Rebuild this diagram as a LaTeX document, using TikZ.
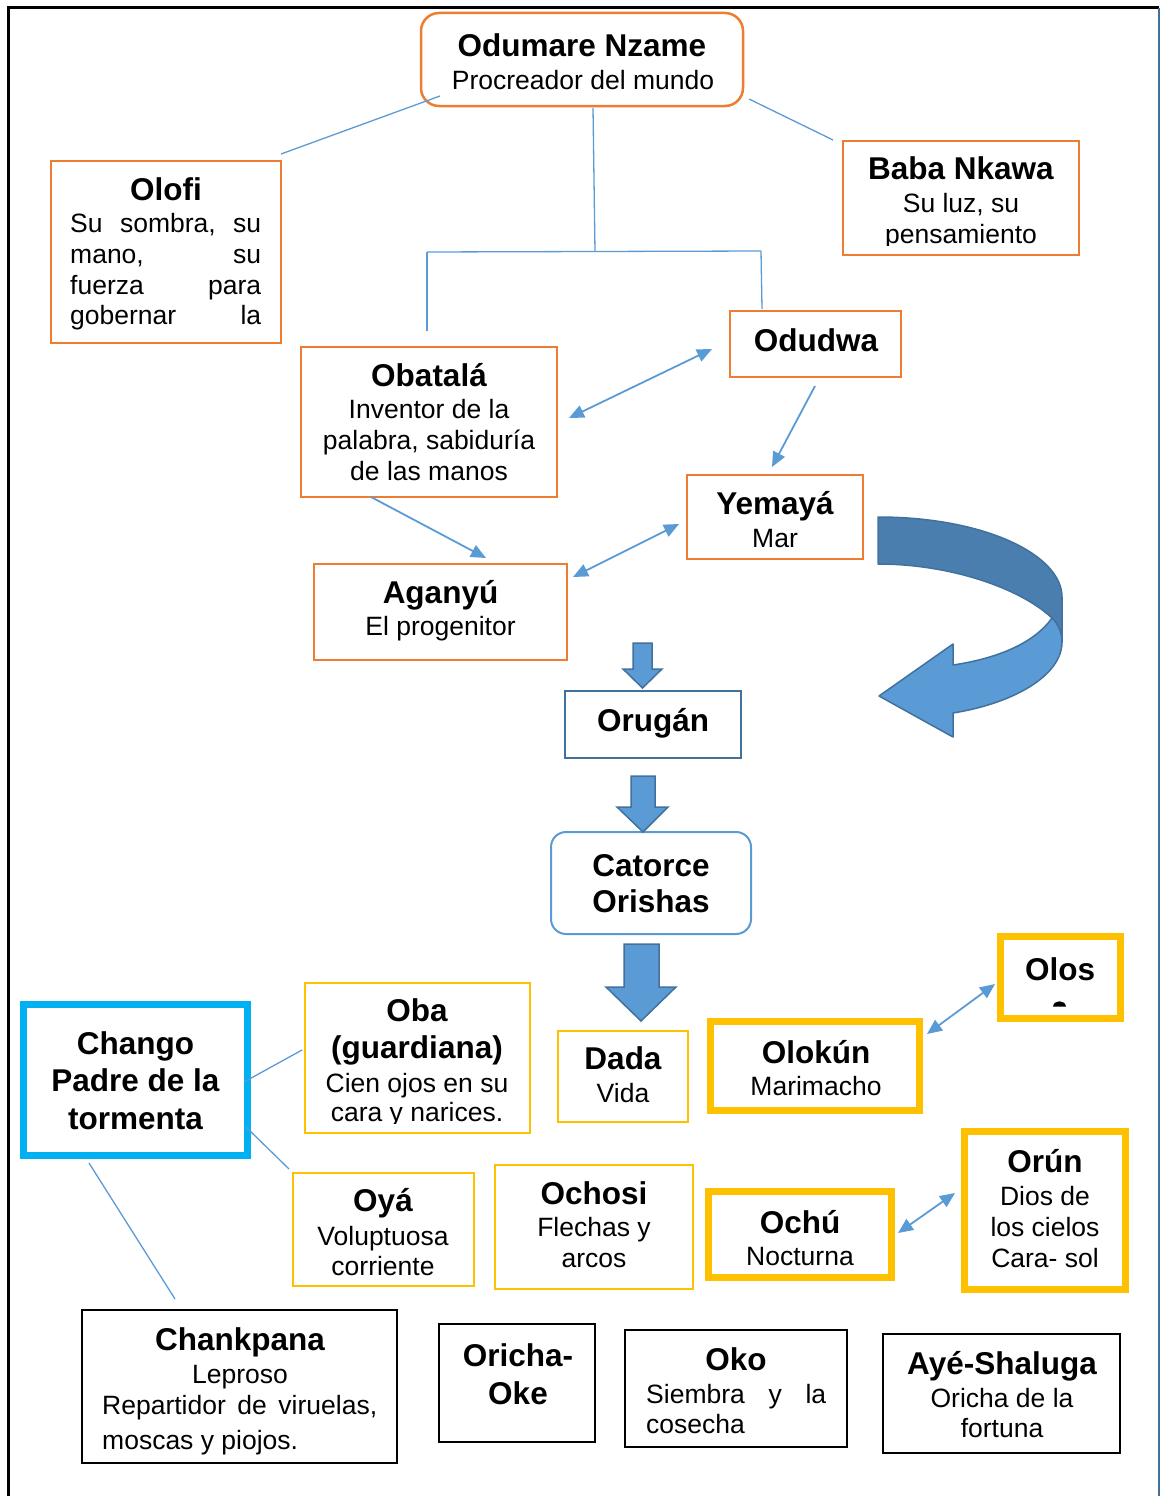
\documentclass[tikz,border=0pt]{standalone}
\usepackage{fontspec}
\setmainfont{Liberation Sans}
\usetikzlibrary{arrows.meta}
\definecolor{orangeline}{HTML}{ED7D31}
\definecolor{blueline}{HTML}{5B9BD5}
\definecolor{bluedark}{HTML}{41719C}
\definecolor{blueback}{HTML}{4A7EAE}
\definecolor{yellowline}{HTML}{FFC000}
\definecolor{cyanline}{HTML}{00B0F0}

\begin{document}
\begin{tikzpicture}[x=1pt,y=-1pt,
  boxbase/.style={rectangle, inner sep=0pt, outer sep=0pt},
  obox/.style={boxbase, draw=orangeline, line width=2.5pt},
  ybox/.style={boxbase, draw=yellowline, line width=2pt},
  thickybox/.style={boxbase, draw=yellowline, line width=7pt},
  kbox/.style={boxbase, draw=black, line width=2.5pt},
  ttl/.style={inner sep=0pt, anchor=base, font=\fontsize{31.5}{36}\selectfont\bfseries},
  txt/.style={inner sep=0pt, anchor=base, font=\fontsize{26.5}{31}\selectfont},
  txtl/.style={txt, anchor=base west},
  link/.style={draw=blueline, line width=1.3pt},
  twoway/.style={draw=blueline, line width=1.8pt,
    {Triangle[length=15pt,width=13pt]}-{Triangle[length=15pt,width=13pt]}},
  oneway/.style={draw=blueline, line width=1.8pt, -{Triangle[length=15pt,width=13pt]}},
  blockarrow/.style={fill=blueline, draw=bluedark, line width=1.5pt, line join=miter}
]
\useasboundingbox (0,0) rectangle (1160,1496);

% page frame
\draw[black, line width=3pt] (8,1496) -- (8,8) -- (1159,8);
\draw[bluedark, line width=1.5pt] (1159,8) -- (1159,1496);

% ---------- boxes ----------
\node[obox, rounded corners=18pt, minimum width=322pt, minimum height=93pt] (odumare) at (582,59.5) {};
\node[obox, minimum width=230pt, minimum height=182pt] (olofi) at (166,252) {};
\node[obox, minimum width=236pt, minimum height=114pt] (baba) at (961,198) {};
\node[obox, minimum width=256pt, minimum height=150pt] (obatala) at (429,422) {};
\node[obox, minimum width=171pt, minimum height=66pt] (odudwa) at (815.5,344) {};
\node[obox, minimum width=176pt, minimum height=84pt] (yemaya) at (775,517) {};
\node[obox, minimum width=253pt, minimum height=96pt] (aganyu) at (440.5,612) {};
\node[boxbase, draw=bluedark, line width=2pt, minimum width=176pt, minimum height=67pt] (orugan) at (653,724.5) {};
\node[boxbase, draw=blueline, line width=2pt, rounded corners=15pt, minimum width=200pt, minimum height=102pt] (catorce) at (651,883) {};

\node[boxbase, draw=cyanline, line width=7pt, minimum width=224pt, minimum height=151pt] (chango) at (135,1079.5) {};
\node[ybox, minimum width=225pt, minimum height=150pt] (oba) at (417.5,1058) {};
\node[ybox, minimum width=181pt, minimum height=113pt] (oya) at (383.5,1229.5) {};
\node[ybox, minimum width=198pt, minimum height=124pt] (ochosi) at (594,1227) {};
\node[ybox, minimum width=130pt, minimum height=91pt] (dada) at (623,1076.5) {};
\node[thickybox, minimum width=209pt, minimum height=89pt] (olokun) at (814.5,1065.5) {};
\node[thickybox, minimum width=120pt, minimum height=82pt] (olos) at (1060,977) {};
\node[thickybox, minimum width=183pt, minimum height=86pt] (ochu) at (799.5,1234) {};
\node[thickybox, minimum width=161pt, minimum height=158pt] (orun) at (1044.5,1210) {};

\node[kbox, minimum width=315pt, minimum height=153pt] (chankpana) at (239.5,1386.5) {};
\node[kbox, minimum width=156pt, minimum height=118pt] (orichaoke) at (517,1383) {};
\node[kbox, minimum width=222pt, minimum height=117pt] (oko) at (736,1388.5) {};
\node[kbox, minimum width=237pt, minimum height=119pt] (aye) at (1001.5,1393.5) {};

% ---------- texts ----------
\node[ttl] (odumare-t) at (582,56.5) {Odumare Nzame};
\node[txt] (odumare-1) at (583,89) {Procreador del mundo};

\node[ttl] (olofi-t) at (166,200) {Olofi};
\node[txtl] (olofi-1) at (70,232.5) {\hbox to 191pt{Su\hfill sombra,\hfill su}};
\node[txtl] (olofi-2) at (70,263.5) {\hbox to 191pt{mano,\hfill su}};
\node[txtl] (olofi-3) at (70,294.5) {\hbox to 191pt{fuerza\hfill para}};
\node[txtl] (olofi-4) at (70,324.5) {\hbox to 191pt{gobernar\hfill la}};

\node[ttl] (baba-t) at (961,179) {Baba Nkawa};
\node[txt] (baba-1) at (961,212.5) {Su luz, su};
\begin{scope}
  \clip (844,220) rectangle (1078,245);
  \node[txt] (baba-2) at (961,243) {pensamiento};
\end{scope}

\node[ttl] (obatala-t) at (429,386) {Obatalá};
\node[txt] (obatala-1) at (429,418) {Inventor de la};
\node[txt] (obatala-2) at (429,449) {palabra, sabiduría};
\node[txt] (obatala-3) at (429,480) {de las manos};

\node[ttl] (odudwa-t) at (816,351.5) {Odudwa};

\node[ttl] (yemaya-t) at (775,514.5) {Yemayá};
\node[txt] (yemaya-1) at (775,547.5) {Mar};

\node[ttl] (aganyu-t) at (440.5,603.5) {Aganyú};
\node[txt] (aganyu-1) at (440.5,635.5) {El progenitor};

\node[ttl] (orugan-t) at (653,731) {Orugán};

\node[ttl] (catorce-1) at (651,876) {Catorce};
\node[ttl] (catorce-2) at (651,912.5) {Orishas};

\node[ttl] (chango-1) at (135.5,1054.5) {Chango};
\node[ttl] (chango-2) at (135.5,1091.5) {Padre de la};
\node[ttl] (chango-3) at (135.5,1129) {tormenta};

\node[ttl] (oba-t) at (417,1021.5) {Oba};
\node[ttl] (oba-1) at (417,1058.5) {(guardiana)};
\node[txt] (oba-2) at (417,1092) {Cien ojos en su};
\begin{scope}
  \clip (306,1095) rectangle (529,1123);
  \node[txt] (oba-3) at (417,1121.5) {cara y narices.};
\end{scope}

\node[ttl] (oya-t) at (383,1211.5) {Oyá};
\node[txt] (oya-1) at (383,1245) {Voluptuosa};
\node[txt] (oya-2) at (383,1275) {corriente};

\node[ttl] (ochosi-t) at (594,1204) {Ochosi};
\node[txt] (ochosi-1) at (594,1236.5) {Flechas y};
\node[txt] (ochosi-2) at (594,1267.5) {arcos};

\node[ttl] (dada-t) at (623,1069) {Dada};
\node[txt] (dada-1) at (623,1102.5) {Vida};

\node[ttl] (olokun-t) at (816,1063.5) {Olokún};
\node[txt] (olokun-1) at (816,1095.5) {Marimacho};

\node[ttl] (olos-t) at (1060,980.5) {Olos};
\fill (1053,1006.5) .. controls (1054,999.5) and (1065,999.5) .. (1066,1006.5) -- cycle;

\node[ttl] (ochu-t) at (800,1233.5) {Ochú};
\begin{scope}
  \clip (712,1240) rectangle (887,1266);
  \node[txt] (ochu-1) at (800,1265) {Nocturna};
\end{scope}

\node[ttl] (orun-t) at (1045,1172.5) {Orún};
\node[txt] (orun-1) at (1045,1205.5) {Dios de};
\node[txt] (orun-2) at (1045,1236) {los cielos};
\node[txt] (orun-3) at (1045,1267) {Cara- sol};

\node[ttl] (chankpana-t) at (240,1350.5) {Chankpana};
\node[txt] (chankpana-1) at (240,1383.5) {Leproso};
\node[txtl] (chankpana-2) at (102,1414.5) {\hbox to 275pt{Repartidor\hfill de\hfill viruelas,}};
\node[txtl] (chankpana-3) at (102,1449.5) {moscas y piojos.};

\node[ttl] (orichaoke-1) at (518,1366.5) {Oricha-};
\node[ttl] (orichaoke-2) at (518,1404.5) {Oke};

\node[ttl] (oko-t) at (736,1370.5) {Oko};
\node[txtl] (oko-1) at (646,1403) {\hbox to 180pt{Siembra\hfill y\hfill la}};
\node[txtl] (oko-2) at (646,1433.5) {cosecha};

\node[ttl] (aye-t) at (1002,1374.5) {Ayé-Shaluga};
\node[txt] (aye-1) at (1002,1407.5) {Oricha de la};
\node[txt] (aye-2) at (1002,1437.5) {fortuna};

% ---------- connector end points ----------
\coordinate (odumare-sw) at (440,96);
\coordinate (olofi-ne) at (281,154);
\coordinate (odumare-se) at (749,99);
\coordinate (baba-nw) at (833,140);
\coordinate (odumare-s) at (593,108);
\coordinate (bus-c) at (595,252);
\coordinate (bus-l) at (427,252);
\coordinate (bus-r) at (761,251);
\coordinate (obatala-n) at (427,331);
\coordinate (odudwa-n) at (762,309);
\coordinate (obatala-e) at (569,418);
\coordinate (odudwa-w) at (712,349);
\coordinate (odudwa-s) at (815,386);
\coordinate (yemaya-n) at (772,467);
\coordinate (obatala-s) at (371,497);
\coordinate (aganyu-n) at (486,558);
\coordinate (aganyu-ne) at (573,577);
\coordinate (yemaya-w) at (679,524);
\coordinate (chango-e1) at (244,1082);
\coordinate (oba-w) at (302,1050);
\coordinate (chango-e2) at (246,1127);
\coordinate (oya-nw) at (289,1169);
\coordinate (chango-s) at (89,1163);
\coordinate (chankpana-n) at (175,1299);
\coordinate (olokun-ne) at (927,1034);
\coordinate (olos-w) at (995,984);
\coordinate (ochu-e) at (898,1233);
\coordinate (orun-w) at (955,1193);

% ---------- connectors ----------
\draw[link] (odumare-sw) -- (olofi-ne);
\draw[link] (odumare-se) -- (baba-nw);
\draw[link] (odumare-s) -- (bus-c);
\draw[link] (bus-l) -- (bus-r);
\draw[link] (bus-l) -- (obatala-n);
\draw[link] (bus-r) -- (odudwa-n);
\draw[twoway] (obatala-e) -- (odudwa-w);
\draw[oneway] (odudwa-s) -- (yemaya-n);
\draw[oneway] (obatala-s) -- (aganyu-n);
\draw[twoway] (aganyu-ne) -- (yemaya-w);
\draw[link] (chango-e1) -- (oba-w);
\draw[link] (chango-e2) -- (oya-nw);
\draw[link] (chango-s) -- (chankpana-n);
\draw[twoway] (olokun-ne) -- (olos-w);
\draw[twoway] (ochu-e) -- (orun-w);

% ---------- block arrows ----------
\draw[blockarrow] (633,643) -- (652,643) -- (652,669) -- (662,669) -- (642.5,688)
  -- (623,669) -- (633,669) -- cycle;
\draw[blockarrow] (631,776) -- (655,776) -- (655,807) -- (668,807) -- (643,832)
  -- (617,807) -- (631,807) -- cycle;
\draw[blockarrow] (624,944) -- (659,944) -- (659,987) -- (676,987) -- (641,1021)
  -- (606,987) -- (624,987) -- cycle;

% ---------- U-turn arrow ----------
\filldraw[fill=blueback, draw=bluedark, line width=1.5pt, line join=round]
  (878,517) .. controls (985,517) and (1062,555) .. (1062,597) -- (1062,642)
  .. controls (1062,632) and (1058,624) .. (1052,618)
  .. controls (1020,588) and (950,564) .. (878,564) -- cycle;
\filldraw[fill=blueline, draw=bluedark, line width=1.5pt, line join=round]
  (1052,618) .. controls (1035,642) and (1000,658) .. (953,665)
  -- (953,644) -- (879,696) -- (953,737) -- (953,713)
  .. controls (1015,703) and (1062,675) .. (1062,642)
  .. controls (1062,632) and (1058,624) .. (1052,618) -- cycle;
\end{tikzpicture}
\end{document}
